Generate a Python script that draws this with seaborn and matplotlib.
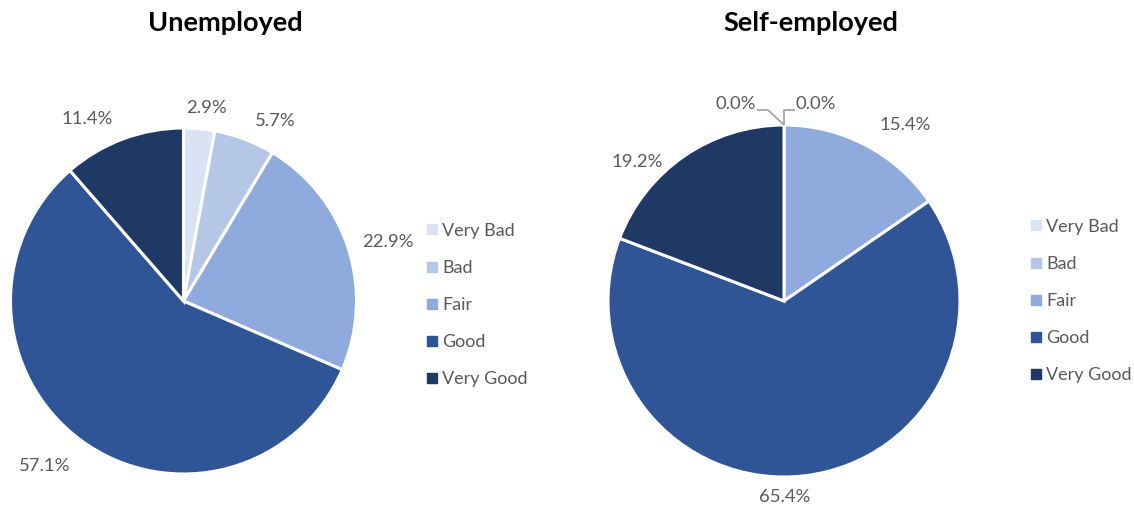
import numpy as np
import matplotlib
matplotlib.use("Agg")
import matplotlib.pyplot as plt
import seaborn as sns
from matplotlib.lines import Line2D

categories = ["Very Bad", "Bad", "Fair", "Good", "Very Good"]
unemployed = [2.9, 5.7, 22.9, 57.1, 11.4]
self_employed = [0.0, 0.0, 15.4, 65.4, 19.2]
titles = ["Unemployed", "Self-employed"]

sns.set_theme(style="white")
plt.rcParams["font.family"] = ["Lato", "DejaVu Sans"]
palette = sns.color_palette(["#dae3f3", "#b4c7e7", "#8faadc", "#2f5597", "#203864"])
text_grey = "#595959"
label_size = 13.3

W, H = 1134, 508
fig = plt.figure(figsize=(W / 100, H / 100), dpi=100)


def px_axes(cx, cy, r):
    return fig.add_axes([(cx - r) / W, (H - cy - r) / H, 2 * r / W, 2 * r / H])


def draw_pie(ax, values):
    ax.pie(values, colors=palette, startangle=90, counterclock=False,
           wedgeprops=dict(edgecolor="white", linewidth=2.2),
           radius=1.0, normalize=True)
    ax.set_xlim(-1, 1)
    ax.set_ylim(-1, 1)
    ax.set_aspect("equal")
    ax.axis("off")
    total = sum(values)
    cum = np.cumsum([0] + list(values))[:-1]
    return [np.deg2rad(90 - 360 * (c + v / 2) / total) for c, v in zip(cum, values)]


def add_labels(ax, values, mids, dists, shifts):
    for v, a, d, s in zip(values, mids, dists, shifts):
        if d is None:
            continue
        a = a + np.deg2rad(s)
        ax.text(d * np.cos(a), d * np.sin(a), f"{v:.1f}%", ha="center", va="center",
                fontsize=label_size, color=text_grey, clip_on=False)


# Unemployed pie
ax1 = px_axes(183.5, 301, 173)
mids1 = draw_pie(ax1, unemployed)
add_labels(ax1, unemployed, mids1,
           [1.124, 1.167, 1.23, 1.245, 1.19],
           [-1.7, -6.3, -1.7, -4, 7.5])

# Self-employed pie
ax2 = px_axes(784, 301, 176)
mids2 = draw_pie(ax2, self_employed)
add_labels(ax2, self_employed, mids2,
           [None, None, 1.214, 1.114, 1.15],
           [0, 0, -6.8, -6.5, 12])

# Zero-size slices share the top point: labelled with leader lines
r2 = 176.0
lead = dict(color="#a6a6a6", lw=1.3, clip_on=False, solid_capstyle="butt")
ax2.plot([0, -16 / r2, -27 / r2], [1.0, 1 + 15 / r2, 1 + 15 / r2], **lead)
ax2.plot([0, 0, 11 / r2], [1.0, 1 + 15 / r2, 1 + 15 / r2], **lead)
ax2.text(-28 / r2, 1 + 21 / r2, f"{self_employed[0]:.1f}%", ha="right", va="center",
         fontsize=label_size, color=text_grey, clip_on=False)
ax2.text(12 / r2, 1 + 21 / r2, f"{self_employed[1]:.1f}%", ha="left", va="center",
         fontsize=label_size, color=text_grey, clip_on=False)

# Titles
fig.text(225 / W, 1 - 23 / H, titles[0], ha="center", va="center",
         fontsize=19.5, fontweight="bold", color="black")
fig.text(811 / W, 1 - 23 / H, titles[1], ha="center", va="center",
         fontsize=19.5, fontweight="bold", color="black")

# Legends
handles = [Line2D([0], [0], marker="s", linestyle="none", markersize=7,
                  markerfacecolor=c, markeredgecolor=c) for c in palette]


def add_legend(x_px, y_px):
    fig.legend(handles, categories, loc="center left",
               bbox_to_anchor=(x_px / W, 1 - y_px / H), frameon=False,
               fontsize=13, labelcolor=text_grey, handlelength=0.5,
               handletextpad=0.35, labelspacing=1.17, borderpad=0, borderaxespad=0)


add_legend(427, 305)
add_legend(1031, 301)

fig.savefig("out.png", dpi=100, facecolor="white")
